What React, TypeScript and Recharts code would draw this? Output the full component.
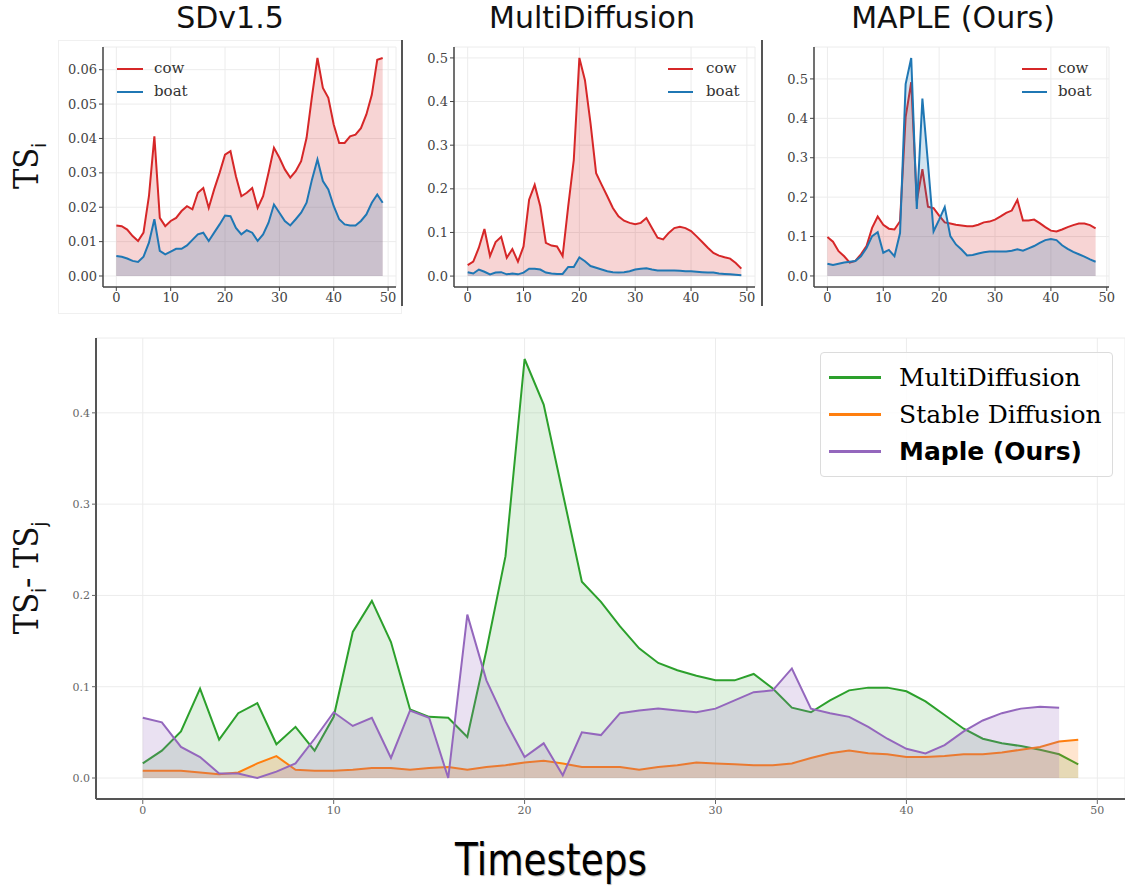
import React from "react";
import { Area, CartesianGrid, ComposedChart, XAxis, YAxis } from "recharts";

const SERIF = "'DejaVu Serif', serif";
const SANS = "'DejaVu Sans', sans-serif";

const RED = "#d62728";
const BLUE = "#1f77b4";
const GREEN = "#2ca02c";
const ORANGE = "#ff7f0e";
const PURPLE = "#9467bd";

const steps = Array.from({ length: 50 }, (_, i) => i);
const xTicks = [0, 10, 20, 30, 40, 50];

// SDv1.5 panel
const sdCow = [
  0.0147, 0.0145, 0.0135, 0.0116, 0.0102, 0.0126, 0.0232, 0.0406, 0.0169, 0.0145,
  0.016, 0.0169, 0.0189, 0.0203, 0.0194, 0.0242, 0.0256, 0.0198, 0.0252, 0.03,
  0.0353, 0.0363, 0.029, 0.0232, 0.0242, 0.0256, 0.0198, 0.0232, 0.03, 0.0373,
  0.0344, 0.031, 0.0286, 0.0305, 0.0334, 0.0402, 0.0523, 0.0634, 0.0547, 0.0518,
  0.044, 0.0387, 0.0387, 0.0406, 0.0411, 0.043, 0.047, 0.0527, 0.0629, 0.0634,
];
const sdBoat = [
  0.0058, 0.0056, 0.0051, 0.0044, 0.0041, 0.0056, 0.0097, 0.0165, 0.0073, 0.0063,
  0.0071, 0.0079, 0.0079, 0.0089, 0.0105, 0.0121, 0.0126, 0.0102, 0.0126, 0.015,
  0.0176, 0.0174, 0.014, 0.0121, 0.0133, 0.0126, 0.0102, 0.0121, 0.0155, 0.0208,
  0.0184, 0.016, 0.0147, 0.0165, 0.0184, 0.0213, 0.0281, 0.0339, 0.0276, 0.0252,
  0.0203, 0.0165, 0.015, 0.0147, 0.0147, 0.016, 0.0179, 0.0213, 0.0237, 0.0213,
];

// MultiDiffusion panel
const mdCow = [
  0.025, 0.033, 0.065, 0.108, 0.046, 0.078, 0.09, 0.042, 0.062, 0.033,
  0.068, 0.175, 0.209, 0.16, 0.076, 0.07, 0.068, 0.046, 0.16, 0.266,
  0.5, 0.449, 0.35, 0.236, 0.209, 0.183, 0.156, 0.137, 0.127, 0.122,
  0.119, 0.122, 0.133, 0.11, 0.088, 0.084, 0.099, 0.11, 0.113, 0.11,
  0.103, 0.091, 0.078, 0.065, 0.053, 0.047, 0.043, 0.04, 0.03, 0.017,
];
const mdBoat = [
  0.009, 0.006, 0.015, 0.01, 0.004, 0.008, 0.009, 0.004, 0.006, 0.004,
  0.008, 0.017, 0.017, 0.015, 0.008, 0.006, 0.005, 0.005, 0.021, 0.021,
  0.043, 0.034, 0.023, 0.019, 0.015, 0.011, 0.009, 0.008, 0.009, 0.011,
  0.015, 0.017, 0.018, 0.015, 0.013, 0.013, 0.013, 0.013, 0.012, 0.011,
  0.011, 0.01, 0.009, 0.008, 0.008, 0.006, 0.005, 0.004, 0.003, 0.002,
];

// MAPLE panel (steps 0-48)
const mapleCow = [
  0.099, 0.087, 0.063, 0.05, 0.034, 0.038, 0.055, 0.076, 0.122, 0.151,
  0.13, 0.12, 0.118, 0.139, 0.403, 0.492, 0.19, 0.271, 0.176, 0.172,
  0.153, 0.136, 0.133, 0.13, 0.128, 0.126, 0.126, 0.13, 0.136, 0.138,
  0.143, 0.151, 0.16, 0.166, 0.193, 0.141, 0.141, 0.143, 0.134, 0.124,
  0.115, 0.113, 0.118, 0.124, 0.129, 0.133, 0.133, 0.129, 0.121,
];
const mapleBoat = [
  0.031, 0.028, 0.031, 0.034, 0.036, 0.038, 0.05, 0.071, 0.101, 0.111,
  0.059, 0.066, 0.05, 0.109, 0.487, 0.553, 0.17, 0.45, 0.286, 0.113,
  0.143, 0.175, 0.101, 0.08, 0.067, 0.052, 0.053, 0.057, 0.06, 0.062,
  0.062, 0.062, 0.062, 0.064, 0.068, 0.064, 0.07, 0.076, 0.084, 0.091,
  0.094, 0.091, 0.078, 0.069, 0.061, 0.055, 0.049, 0.042, 0.036,
];

// bottom panel: TS_i - TS_j
const diffMulti = [
  0.016, 0.03, 0.051, 0.098, 0.042, 0.071, 0.082, 0.037, 0.056, 0.03,
  0.067, 0.16, 0.194, 0.149, 0.075, 0.067, 0.066, 0.045, 0.14, 0.243,
  0.459, 0.409, 0.312, 0.215, 0.193, 0.166, 0.142, 0.126, 0.118, 0.112,
  0.107, 0.107, 0.114, 0.098, 0.077, 0.072, 0.085, 0.096, 0.099, 0.099,
  0.095, 0.084, 0.069, 0.054, 0.043, 0.038, 0.035, 0.031, 0.026, 0.015,
];
const diffStable = [
  0.008, 0.008, 0.008, 0.006, 0.004, 0.006, 0.016, 0.024, 0.009, 0.008,
  0.008, 0.009, 0.011, 0.011, 0.009, 0.011, 0.012, 0.009, 0.012, 0.014,
  0.017, 0.019, 0.016, 0.012, 0.012, 0.012, 0.009, 0.012, 0.014, 0.017,
  0.016, 0.015, 0.014, 0.014, 0.016, 0.022, 0.027, 0.03, 0.027, 0.026,
  0.023, 0.023, 0.024, 0.026, 0.026, 0.028, 0.031, 0.034, 0.04, 0.042,
];
const diffMaple = [
  0.066, 0.061, 0.034, 0.023, 0.005, 0.005, 0.0, 0.007, 0.016, 0.043,
  0.072, 0.057, 0.066, 0.022, 0.074, 0.066, 0.0, 0.179, 0.107, 0.062,
  0.023, 0.038, 0.003, 0.05, 0.047, 0.071, 0.074, 0.076, 0.074, 0.072,
  0.076, 0.085, 0.094, 0.096, 0.12, 0.076, 0.071, 0.067, 0.056, 0.043,
  0.032, 0.027, 0.036, 0.051, 0.063, 0.071, 0.076, 0.078, 0.077,
];

type LegendItem = { label: string; color: string; bold?: boolean };

function PanelLegend({
  items,
  left,
  top,
  fontSize,
  lineW,
  gap,
  rowH,
  boxed,
}: {
  items: LegendItem[];
  left: number;
  top: number;
  fontSize: number;
  lineW: number;
  gap: number;
  rowH: number;
  boxed?: boolean;
}) {
  return (
    <div
      style={{
        position: "absolute",
        left,
        top,
        padding: boxed ? "6px 10px 6px 8px" : 0,
        border: boxed ? "1px solid #dcdcdc" : "none",
        borderRadius: 4,
        background: boxed ? "rgba(255,255,255,0.85)" : "transparent",
      }}
    >
      {items.map((it) => (
        <div key={it.label} style={{ display: "flex", alignItems: "center", height: rowH }}>
          <span
            style={{
              display: "inline-block",
              width: lineW,
              height: boxed ? 3 : 2,
              background: it.color,
              marginRight: gap,
            }}
          />
          <span
            style={{
              fontFamily: it.bold ? SANS : SERIF,
              fontWeight: it.bold ? 700 : 400,
              fontSize,
              color: boxed ? "#000" : "#333",
              lineHeight: 1,
            }}
          >
            {it.label}
          </span>
        </div>
      ))}
    </div>
  );
}

function SmallPanel({
  cow,
  boat,
  left,
  width,
  yAxisW,
  rightM,
  xMax,
  xMin,
  yDomain,
  yTicks,
  digits,
}: {
  cow: number[];
  boat: number[];
  left: number;
  width: number;
  yAxisW: number;
  rightM: number;
  xMin: number;
  xMax: number;
  yDomain: [number, number];
  yTicks: number[];
  digits: number;
}) {
  const rows = steps.map((t, i) => ({
    t,
    cow: i < cow.length ? cow[i] : null,
    boat: i < boat.length ? boat[i] : null,
  }));
  const tick = { fill: "#444", fontSize: 13, fontFamily: SERIF };
  return (
    <div style={{ position: "absolute", left, top: 30 }}>
      <ComposedChart
        width={width}
        height={290}
        data={rows}
        margin={{ top: 17, right: rightM, bottom: 8, left: 0 }}
      >
        <CartesianGrid stroke="#ececec" strokeWidth={1} />
        <XAxis
          dataKey="t"
          type="number"
          domain={[xMin, xMax]}
          ticks={xTicks}
          allowDataOverflow
          height={25}
          tick={tick}
          tickSize={4}
          tickLine={{ stroke: "#444" }}
          axisLine={{ stroke: "#444", strokeWidth: 1.5 }}
        />
        <YAxis
          type="number"
          domain={yDomain}
          ticks={yTicks}
          allowDataOverflow
          width={yAxisW}
          tick={tick}
          tickSize={4}
          tickLine={{ stroke: "#444" }}
          axisLine={{ stroke: "#444", strokeWidth: 1.5 }}
          tickFormatter={(v) => Number(v).toFixed(digits)}
        />
        <Area
          type="linear"
          dataKey="cow"
          stroke={RED}
          strokeWidth={2}
          fill={RED}
          fillOpacity={0.2}
          baseValue={0}
          dot={false}
          activeDot={false}
          isAnimationActive={false}
        />
        <Area
          type="linear"
          dataKey="boat"
          stroke={BLUE}
          strokeWidth={2}
          fill={BLUE}
          fillOpacity={0.2}
          baseValue={0}
          dot={false}
          activeDot={false}
          isAnimationActive={false}
        />
      </ComposedChart>
    </div>
  );
}

function DiffPanel() {
  const rows = steps.map((t, i) => ({
    t,
    multi: diffMulti[i],
    stable: diffStable[i],
    maple: i < diffMaple.length ? diffMaple[i] : null,
  }));
  const tick = { fill: "#666", fontSize: 11, fontFamily: SERIF };
  const series = [
    { key: "multi", color: GREEN, op: 0.15 },
    { key: "stable", color: ORANGE, op: 0.2 },
    { key: "maple", color: PURPLE, op: 0.2 },
  ];
  return (
    <div style={{ position: "absolute", left: 40, top: 320 }}>
      <ComposedChart
        width={1085}
        height={505}
        data={rows}
        margin={{ top: 18, right: 0, bottom: 4, left: 0 }}
      >
        <CartesianGrid stroke="#ececec" strokeWidth={1} />
        <XAxis
          dataKey="t"
          type="number"
          domain={[-2.45, 51.45]}
          ticks={xTicks}
          allowDataOverflow
          height={22}
          tick={tick}
          tickSize={5}
          tickLine={{ stroke: "#666" }}
          axisLine={{ stroke: "#555", strokeWidth: 2 }}
        />
        <YAxis
          type="number"
          domain={[-0.023, 0.482]}
          ticks={[0, 0.1, 0.2, 0.3, 0.4]}
          allowDataOverflow
          width={56}
          tick={tick}
          tickSize={4}
          tickLine={{ stroke: "#666" }}
          axisLine={{ stroke: "#555", strokeWidth: 2 }}
          tickFormatter={(v) => Number(v).toFixed(1)}
        />
        {series.map((s) => (
          <Area
            key={s.key}
            type="linear"
            dataKey={s.key}
            stroke={s.color}
            strokeWidth={2}
            fill={s.color}
            fillOpacity={s.op}
            baseValue={0}
            dot={false}
            activeDot={false}
            isAnimationActive={false}
          />
        ))}
      </ComposedChart>
    </div>
  );
}

const titleStyle: React.CSSProperties = {
  position: "absolute",
  top: 0,
  fontFamily: SANS,
  fontSize: 30,
  color: "#111",
  transform: "translateX(-50%)",
  whiteSpace: "nowrap",
  lineHeight: "36px",
};

const vLabel: React.CSSProperties = {
  position: "absolute",
  fontFamily: SERIF,
  fontSize: 34,
  color: "#111",
  whiteSpace: "nowrap",
  transform: "translate(-50%, -50%) rotate(-90deg) scaleX(0.9)",
  lineHeight: 1,
};

const subStyle: React.CSSProperties = { fontFamily: SANS, fontSize: 19 };

export default function App() {
  return (
    <div
      style={{
        position: "absolute",
        left: 0,
        top: 0,
        width: 1125,
        height: 886,
        background: "#fff",
        overflow: "hidden",
      }}
    >
      <div style={{ ...titleStyle, left: 230 }}>SDv1.5</div>
      <div style={{ ...titleStyle, left: 592 }}>MultiDiffusion</div>
      <div style={{ ...titleStyle, left: 953 }}>MAPLE (Ours)</div>

      <div
        style={{
          position: "absolute",
          left: 58,
          top: 40,
          width: 342,
          height: 272,
          border: "1px solid #f0f0f0",
        }}
      />
      <div style={{ position: "absolute", left: 401, top: 40, width: 2, height: 266, background: "#555" }} />
      <div style={{ position: "absolute", left: 761, top: 40, width: 2, height: 266, background: "#555" }} />

      <SmallPanel
        cow={sdCow}
        boat={sdBoat}
        left={40}
        width={370}
        yAxisW={63}
        rightM={14}
        xMin={-2.45}
        xMax={51.45}
        yDomain={[-0.0032, 0.0666]}
        yTicks={[0, 0.01, 0.02, 0.03, 0.04, 0.05, 0.06]}
        digits={2}
      />
      <SmallPanel
        cow={mdCow}
        boat={mdBoat}
        left={400}
        width={370}
        yAxisW={54}
        rightM={15}
        xMin={-2.45}
        xMax={51.45}
        yDomain={[-0.025, 0.525]}
        yTicks={[0, 0.1, 0.2, 0.3, 0.4, 0.5]}
        digits={1}
      />
      <SmallPanel
        cow={mapleCow}
        boat={mapleBoat}
        left={760}
        width={365}
        yAxisW={54}
        rightM={16}
        xMin={-2.4}
        xMax={50.4}
        yDomain={[-0.028, 0.581]}
        yTicks={[0, 0.1, 0.2, 0.3, 0.4, 0.5]}
        digits={1}
      />

      <PanelLegend
        items={[
          { label: "cow", color: RED },
          { label: "boat", color: BLUE },
        ]}
        left={117}
        top={57}
        fontSize={15}
        lineW={26}
        gap={11}
        rowH={23}
      />
      <PanelLegend
        items={[
          { label: "cow", color: RED },
          { label: "boat", color: BLUE },
        ]}
        left={668}
        top={57}
        fontSize={15}
        lineW={25}
        gap={13}
        rowH={23}
      />
      <PanelLegend
        items={[
          { label: "cow", color: RED },
          { label: "boat", color: BLUE },
        ]}
        left={1022}
        top={57}
        fontSize={15}
        lineW={25}
        gap={11}
        rowH={23}
      />

      <div style={{ ...vLabel, left: 29, top: 166 }}>
        TS<sub style={subStyle}>i</sub>
      </div>

      <DiffPanel />

      <PanelLegend
        items={[
          { label: "MultiDiffusion", color: GREEN },
          { label: "Stable Diffusion", color: ORANGE },
          { label: "Maple (Ours)", color: PURPLE, bold: true },
        ]}
        left={820}
        top={352}
        fontSize={25}
        lineW={52}
        gap={18}
        rowH={37}
        boxed
      />

      <div style={{ ...vLabel, left: 29, top: 578 }}>
        TS<sub style={subStyle}>i</sub>- TS<sub style={subStyle}>j</sub>
      </div>

      <div
        style={{
          position: "absolute",
          left: 551,
          top: 860,
          fontFamily: SANS,
          fontSize: 44,
          color: "#000",
          whiteSpace: "nowrap",
          lineHeight: 1,
          transform: "translate(-50%, -50%) scaleX(0.85)",
          textShadow: "1px 1px 1px #aaa",
        }}
      >
        Timesteps
      </div>
    </div>
  );
}
